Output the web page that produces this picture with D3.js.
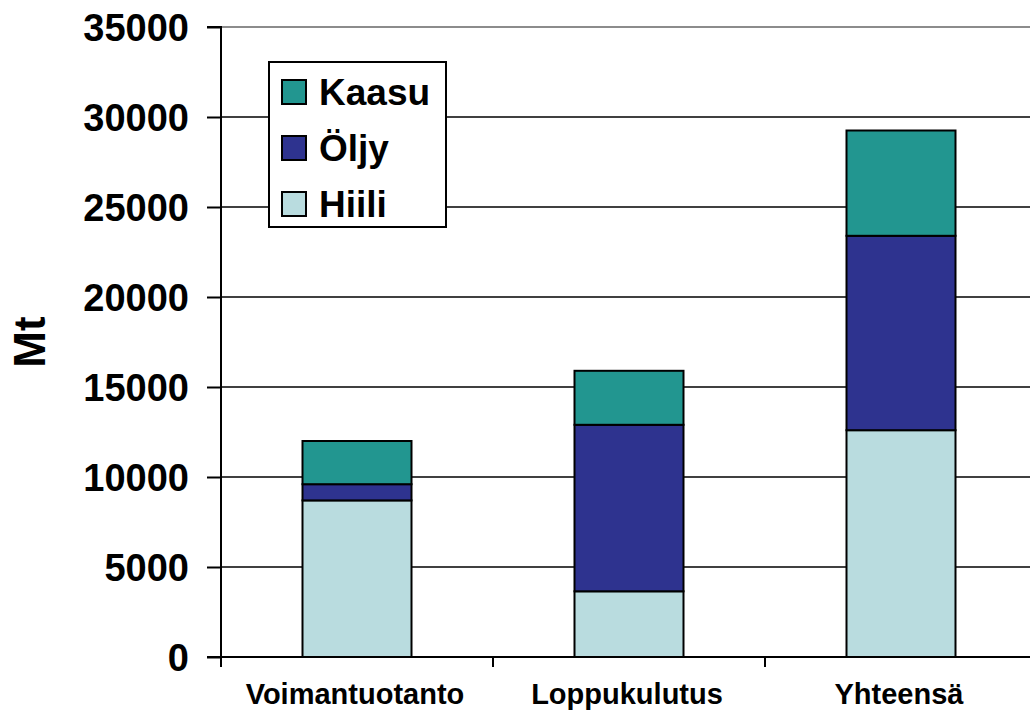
<!DOCTYPE html>
<html><head><meta charset="utf-8">
<script src="https://cdn.jsdelivr.net/npm/d3@7"></script>
<style>html,body{margin:0;padding:0;background:#fff;} svg{display:block;}</style>
</head><body>
<svg id="chart" width="1030" height="713"></svg>
<script>
const categories = ["Voimantuotanto", "Loppukulutus", "Yhteensä"];
const hiili = [8700, 3650, 12600];
const oljy = [900, 9250, 10800];
const kaasu = [2400, 3000, 5850];
const seriesNames = ["Hiili", "Öljy", "Kaasu"];
const seriesColors = ["#b9dcdf", "#2e338f", "#229690"];
const yTicks = [0, 5000, 10000, 15000, 20000, 25000, 30000, 35000];
const legendOrder = ["Kaasu", "Öljy", "Hiili"];

const svg = d3.select("#chart");
const font = "'Liberation Sans', Arial, sans-serif";
const x = d3.scaleBand().domain(categories).range([221, 1037]).paddingInner(0).paddingOuter(0);
const y = d3.scaleLinear().domain([0, 35000]).range([657, 27]);

const rows = categories.map((c, i) => ({cat: c, Hiili: hiili[i], "Öljy": oljy[i], Kaasu: kaasu[i]}));
const stacked = d3.stack().keys(seriesNames)(rows);
const color = d3.scaleOrdinal().domain(seriesNames).range(seriesColors);

// gridlines
svg.append("g").selectAll("line").data(yTicks.filter(d => d > 0)).join("line")
  .attr("x1", 221).attr("x2", 1030)
  .attr("y1", d => y(d)).attr("y2", d => y(d))
  .attr("stroke", d => d === 35000 ? "#666" : "#000").attr("stroke-width", 1.5);

// bars
const bw = 109;
svg.append("g").selectAll("g").data(stacked).join("g")
  .attr("fill", d => color(d.key))
  .selectAll("rect").data(d => d).join("rect")
  .attr("x", d => x(d.data.cat) + x.bandwidth() / 2 - bw / 2)
  .attr("width", bw)
  .attr("y", d => y(d[1]))
  .attr("height", d => y(d[0]) - y(d[1]))
  .attr("stroke", "#000").attr("stroke-width", 2);

// y axis
const yAxis = d3.axisLeft(y).tickValues(yTicks).tickSize(14).tickPadding(18).tickFormat(d3.format("d"));
const gy = svg.append("g").attr("transform", "translate(221,0)").call(yAxis);
gy.select(".domain").attr("stroke", "#000").attr("stroke-width", 2).attr("d", "M-14,27H0V657H-14");
gy.selectAll(".tick line").attr("stroke", "#000").attr("stroke-width", 2);
gy.selectAll(".tick text").attr("font-family", font).attr("font-weight", "bold")
  .attr("font-size", 38).attr("fill", "#000").attr("dy", "0.36em");

// x axis
const gx = svg.append("g").attr("transform", "translate(0,657)");
gx.append("line").attr("x1", 221).attr("x2", 1030).attr("y1", 0).attr("y2", 0)
  .attr("stroke", "#000").attr("stroke-width", 2);
gx.selectAll("line.tk").data(categories).join("line").attr("class", "tk")
  .attr("x1", d => x(d)).attr("x2", d => x(d)).attr("y1", 0).attr("y2", 10)
  .attr("stroke", "#000").attr("stroke-width", 2);
gx.selectAll("text").data(categories).join("text")
  .attr("x", d => x(d) + x.bandwidth() / 2 - 2).attr("y", 47)
  .attr("text-anchor", "middle").attr("font-family", font).attr("font-weight", "bold")
  .attr("font-size", 29).attr("fill", "#000").text(d => d);

// y label
svg.append("text").attr("transform", "translate(45,342) rotate(-90)")
  .attr("text-anchor", "middle").attr("font-family", font).attr("font-weight", "bold")
  .attr("font-size", 44).attr("fill", "#000").text("Mt");

// legend
const lg = svg.append("g");
lg.append("rect").attr("x", 269).attr("y", 62).attr("width", 177).attr("height", 165)
  .attr("fill", "#fff").attr("stroke", "#000").attr("stroke-width", 2);
const items = lg.selectAll("g.item").data(legendOrder).join("g").attr("class", "item")
  .attr("transform", (d, i) => `translate(282,${80 + i * 56})`);
items.append("rect").attr("width", 24).attr("height", 24)
  .attr("fill", d => color(d)).attr("stroke", "#000").attr("stroke-width", 2);
items.append("text").attr("x", 37).attr("y", 25).attr("font-family", font)
  .attr("font-weight", "bold").attr("font-size", 37).attr("fill", "#000").text(d => d);
</script>
</body></html>
